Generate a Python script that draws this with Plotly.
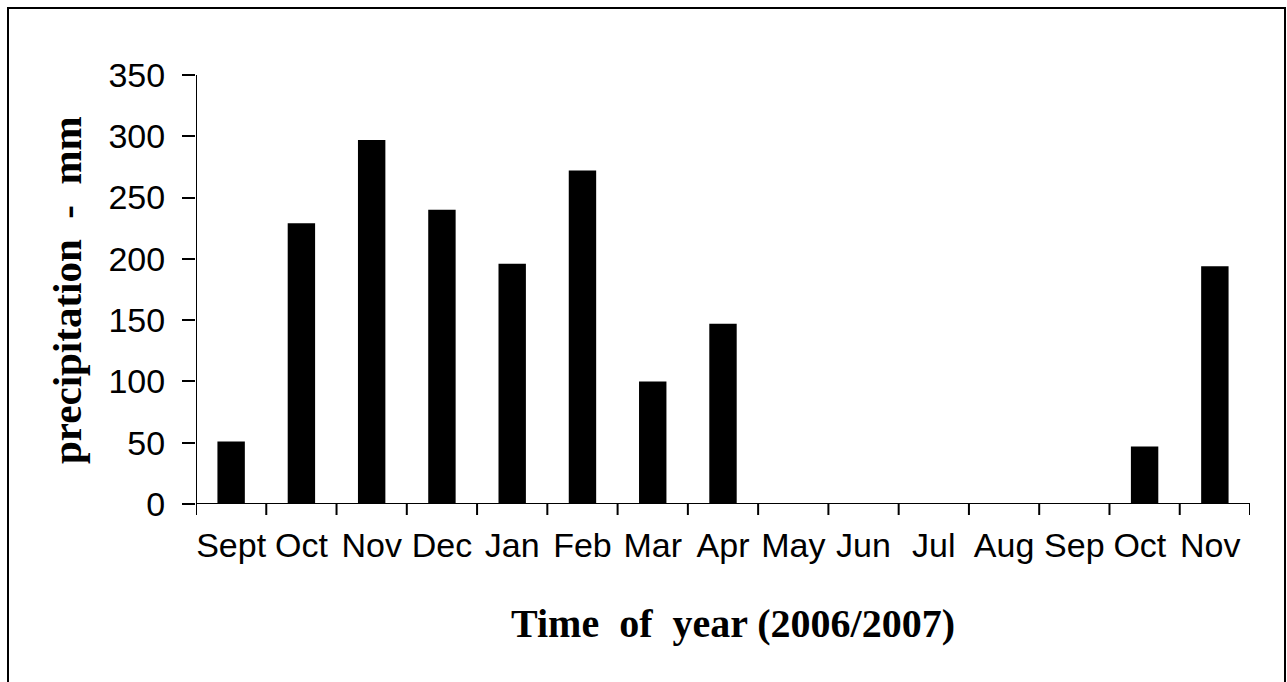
import plotly.graph_objects as go

months = ["Sept", "Oct", "Nov", "Dec", "Jan", "Feb", "Mar", "Apr",
          "May", "Jun", "Jul", "Aug", "Sep", "Oct ", "Nov "]
precip_mm = [51, 229, 297, 240, 196, 272, 100, 147, 0, 0, 0, 0, 0, 47, 194]
y_ticks = [0, 50, 100, 150, 200, 250, 300, 350]

W, H = 1287, 682
L, R, T, B = 196, 37, 75, 178
PW, PH = W - L - R, H - T - B
N = len(months)

def px(x):
    return (x - L) / PW

def py(y):
    return (T + PH - y) / PH

fig = go.Figure(go.Bar(
    x=list(range(N)), y=precip_mm, width=0.39,
    marker=dict(color="black", line=dict(width=0)),
))

axis_line = dict(color="black", width=2)

fig.update_layout(
    width=W, height=H,
    margin=dict(l=L, r=R, t=T, b=B),
    paper_bgcolor="white", plot_bgcolor="white",
    showlegend=False,
    font=dict(family="Liberation Sans, Arial, sans-serif", color="black"),
    xaxis=dict(
        tickmode="array", tickvals=list(range(N)), ticktext=months,
        range=[-0.5, N - 0.5],
        showline=False, ticks="", showgrid=False, zeroline=False,
        tickfont=dict(size=34, family="Liberation Sans, Arial, sans-serif"),
        ticklabelstandoff=18,
    ),
    yaxis=dict(
        range=[0, 350], tickvals=y_ticks,
        showline=False,
        ticks="outside", ticklen=13, tickwidth=2, tickcolor="black",
        showgrid=False, zeroline=False,
        tickfont=dict(size=34, family="Liberation Sans, Arial, sans-serif"),
        ticklabelstandoff=10,
    ),
    annotations=[
        dict(text="<b>Time  of  year (2006/2007)</b>", xref="paper", yref="paper",
             x=px(733), y=py(623), xanchor="center", yanchor="middle", showarrow=False,
             font=dict(size=40, family="Liberation Serif, Times New Roman, serif")),
        dict(text="<b>precipitation  -  mm</b>", xref="paper", yref="paper",
             x=px(67), y=py(290), xanchor="center", yanchor="middle", showarrow=False,
             textangle=-90,
             font=dict(size=41, family="Liberation Serif, Times New Roman, serif")),
    ],
    shapes=[
        dict(type="rect", xref="paper", yref="paper",
             x0=px(8), x1=px(1285), y0=py(700), y1=py(8),
             line=dict(color="black", width=2), fillcolor="rgba(0,0,0,0)", layer="below"),
        dict(type="line", xref="x", yref="y", x0=-0.5, x1=-0.5, y0=0, y1=350, line=axis_line),
        dict(type="line", xref="x", yref="y", x0=-0.5, x1=N - 0.5, y0=0, y1=0, line=axis_line),
    ] + [
        dict(type="line", xref="x", yref="paper", x0=i - 0.5, x1=i - 0.5,
             y0=0, y1=-11 / PH, line=axis_line)
        for i in range(N + 1)
    ],
)

fig.write_html(
    "out.html",
    config={"displayModeBar": False},
    post_script="document.body.style.margin='0px';document.body.style.overflow='hidden';",
)
